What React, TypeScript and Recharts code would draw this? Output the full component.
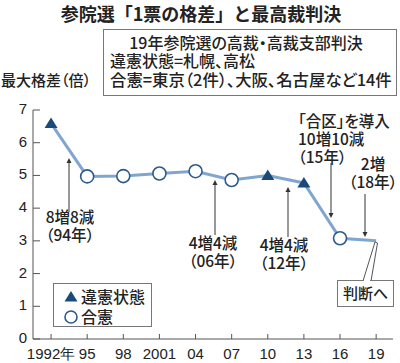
import React from 'react';
import { ComposedChart, Line, XAxis, YAxis } from 'recharts';

const years = [1992, 1995, 1998, 2001, 2004, 2007, 2010, 2013, 2016, 2019];
const gaps = [6.59, 4.97, 4.98, 5.06, 5.13, 4.86, 5.0, 4.77, 3.08, 3.0];
const rulings = ['違憲状態', '合憲', '合憲', '合憲', '合憲', '合憲', '違憲状態', '違憲状態', '合憲', ''];
const yearLabels = ['1992年', '95', '98', '2001', '04', '07', '10', '13', '16', '19'];
const yTicks = [0, 1, 2, 3, 4, 5, 6, 7];

const data = years.map((year, i) => ({ year, gap: gaps[i], ruling: rulings[i] }));

const JP = "'Noto Sans CJK JP', 'Noto Sans', sans-serif";
const NUM = "'Liberation Sans Narrow', 'Liberation Sans', sans-serif";
const NAVY = '#1a4a78';
const LINE = '#80a6cf';
const INK = '#222';
const palt = { fontFeatureSettings: "'palt'" };

const RulingDot = (props: any) => {
  const { cx, cy, payload } = props;
  if (payload.ruling === '違憲状態') {
    return <path d={`M${cx},${cy - 6} L${cx + 6.5},${cy + 4.5} L${cx - 6.5},${cy + 4.5} Z`} fill={NAVY} />;
  }
  if (payload.ruling === '合憲') {
    return <circle cx={cx} cy={cy} r={6.5} fill="#fff" stroke="#2d5a8c" strokeWidth={1.6} />;
  }
  return <g />;
};

const XTick = (props: any) => {
  const { x, y, payload } = props;
  const label = yearLabels[years.indexOf(payload.value)];
  return (
    <g>
      <line x1={x} x2={x} y1={y} y2={y - 5} stroke="#555" />
      <text x={x} y={y + 20} textAnchor="middle" fontFamily={NUM} fontSize={15} fill={INK}>
        {label}
      </text>
    </g>
  );
};

const YTick = (props: any) => {
  const { x, y, payload } = props;
  return (
    <g>
      <line x1={x} x2={x + 7} y1={y} y2={y} stroke="#555" />
      <text x={x - 6} y={y + 4} textAnchor="end" fontFamily={NUM} fontSize={15} fill={INK}>
        {payload.value}
      </text>
    </g>
  );
};

const Arrow = ({ x, from, to }: { x: number; from: number; to: number }) => {
  const dir = to > from ? 1 : -1;
  return (
    <g>
      <line x1={x} x2={x} y1={from} y2={to - dir * 4} stroke="#333" strokeWidth={1} />
      <path d={`M${x},${to} L${x - 2.5},${to - dir * 5} L${x + 2.5},${to - dir * 5} Z`} fill="#333" />
    </g>
  );
};

const Note = ({ x, y, lines, anchor = 'middle' }: { x: number; y: number; lines: string[]; anchor?: string }) => (
  <text x={x} y={y} textAnchor={anchor as any} fontFamily={JP} fontWeight={500} fontSize={15.5} fill={INK} style={palt}>
    {lines.map((t, i) => (
      <tspan key={i} x={x} dy={i === 0 ? 0 : 18}>
        {t}
      </tspan>
    ))}
  </text>
);

export default function App() {
  return (
    <div style={{ position: 'relative', width: 400, height: 363, background: '#fff' }}>
      <style>{`body{margin:0}`}</style>
      <ComposedChart width={400} height={363} data={data} margin={{ top: 110, right: 7, bottom: 0, left: 0 }}>
        <XAxis
          dataKey="year"
          type="number"
          domain={[1990.5, 2020.4]}
          ticks={years}
          interval={0}
          height={24}
          tickSize={0}
          tickMargin={0}
          tickLine={false}
          axisLine={{ stroke: '#555' }}
          tick={<XTick />}
        />
        <YAxis
          domain={[0, 7]}
          ticks={yTicks}
          interval={0}
          width={33}
          tickSize={0}
          tickMargin={0}
          tickLine={false}
          axisLine={{ stroke: '#555' }}
          tick={<YTick />}
        />
        <Line
          dataKey="gap"
          stroke={LINE}
          strokeWidth={3}
          dot={<RulingDot />}
          activeDot={false}
          isAnimationActive={false}
        />
      </ComposedChart>
      <svg width={400} height={363} style={{ position: 'absolute', left: 0, top: 0, pointerEvents: 'none' }}>
        <text x={201} y={21} textAnchor="middle" fontFamily={JP} fontWeight={700} fontSize={18} fill={INK}>
          参院選「1票の格差」と最高裁判決
        </text>
        <rect x={103.5} y={29.5} width={293} height={66} fill="#fff" stroke="#777" />
        <g fontFamily={JP} fontWeight={500} fontSize={16} fill={INK} style={palt}>
          <text x={246} y={49} textAnchor="middle">
            19年参院選の高裁・高裁支部判決
          </text>
          <text x={110} y={67}>
            違憲状態=札幌、高松
          </text>
          <text x={110} y={86} fontSize={16.4}>
            合憲=東京（2件）、大阪、名古屋など14件
          </text>
          <text x={1} y={86} fontSize={15}>
            最大格差（倍）
          </text>
        </g>

        <Arrow x={69} from={212} to={158} />
        <Note x={70} y={223} lines={['8増8減', '（94年）']} />

        <Arrow x={215} from={235} to={180} />
        <Note x={213} y={249} lines={['4増4減', '（06年）']} />

        <Arrow x={288} from={237} to={187} />
        <Note x={284} y={251} lines={['4増4減', '（12年）']} />

        <Arrow x={331} from={163} to={218} />
        <Note x={298} y={127} anchor="start" lines={['「合区」を導入', '10増10減', '（15年）']} />

        <Arrow x={365} from={194} to={237} />
        <Note x={373} y={170} lines={['2増', '（18年）']} />

        <polygon points="363,281 375,242 377.5,243 371,281" fill="#fff" stroke="#555" strokeWidth={1} />
        <rect x={337.5} y={280.5} width={56} height={26} fill="#fff" stroke="#777" />
        <line x1={364} x2={370} y1={280.5} y2={280.5} stroke="#fff" strokeWidth={1.5} />
        <text x={365.5} y={299} textAnchor="middle" fontFamily={JP} fontWeight={500} fontSize={15} fill={INK}>
          判断へ
        </text>

        <rect x={53.5} y={283.5} width={98} height={43} fill="#fff" stroke="#777" />
        <path d="M71,291 L77.5,301.5 L64.5,301.5 Z" fill={NAVY} />
        <text x={81} y={303} fontFamily={JP} fontWeight={500} fontSize={16} fill={INK}>
          違憲状態
        </text>
        <circle cx={71} cy={317} r={6} fill="#fff" stroke="#2d5a8c" strokeWidth={1.6} />
        <text x={81} y={323} fontFamily={JP} fontWeight={500} fontSize={16} fill={INK}>
          合憲
        </text>
      </svg>
    </div>
  );
}
